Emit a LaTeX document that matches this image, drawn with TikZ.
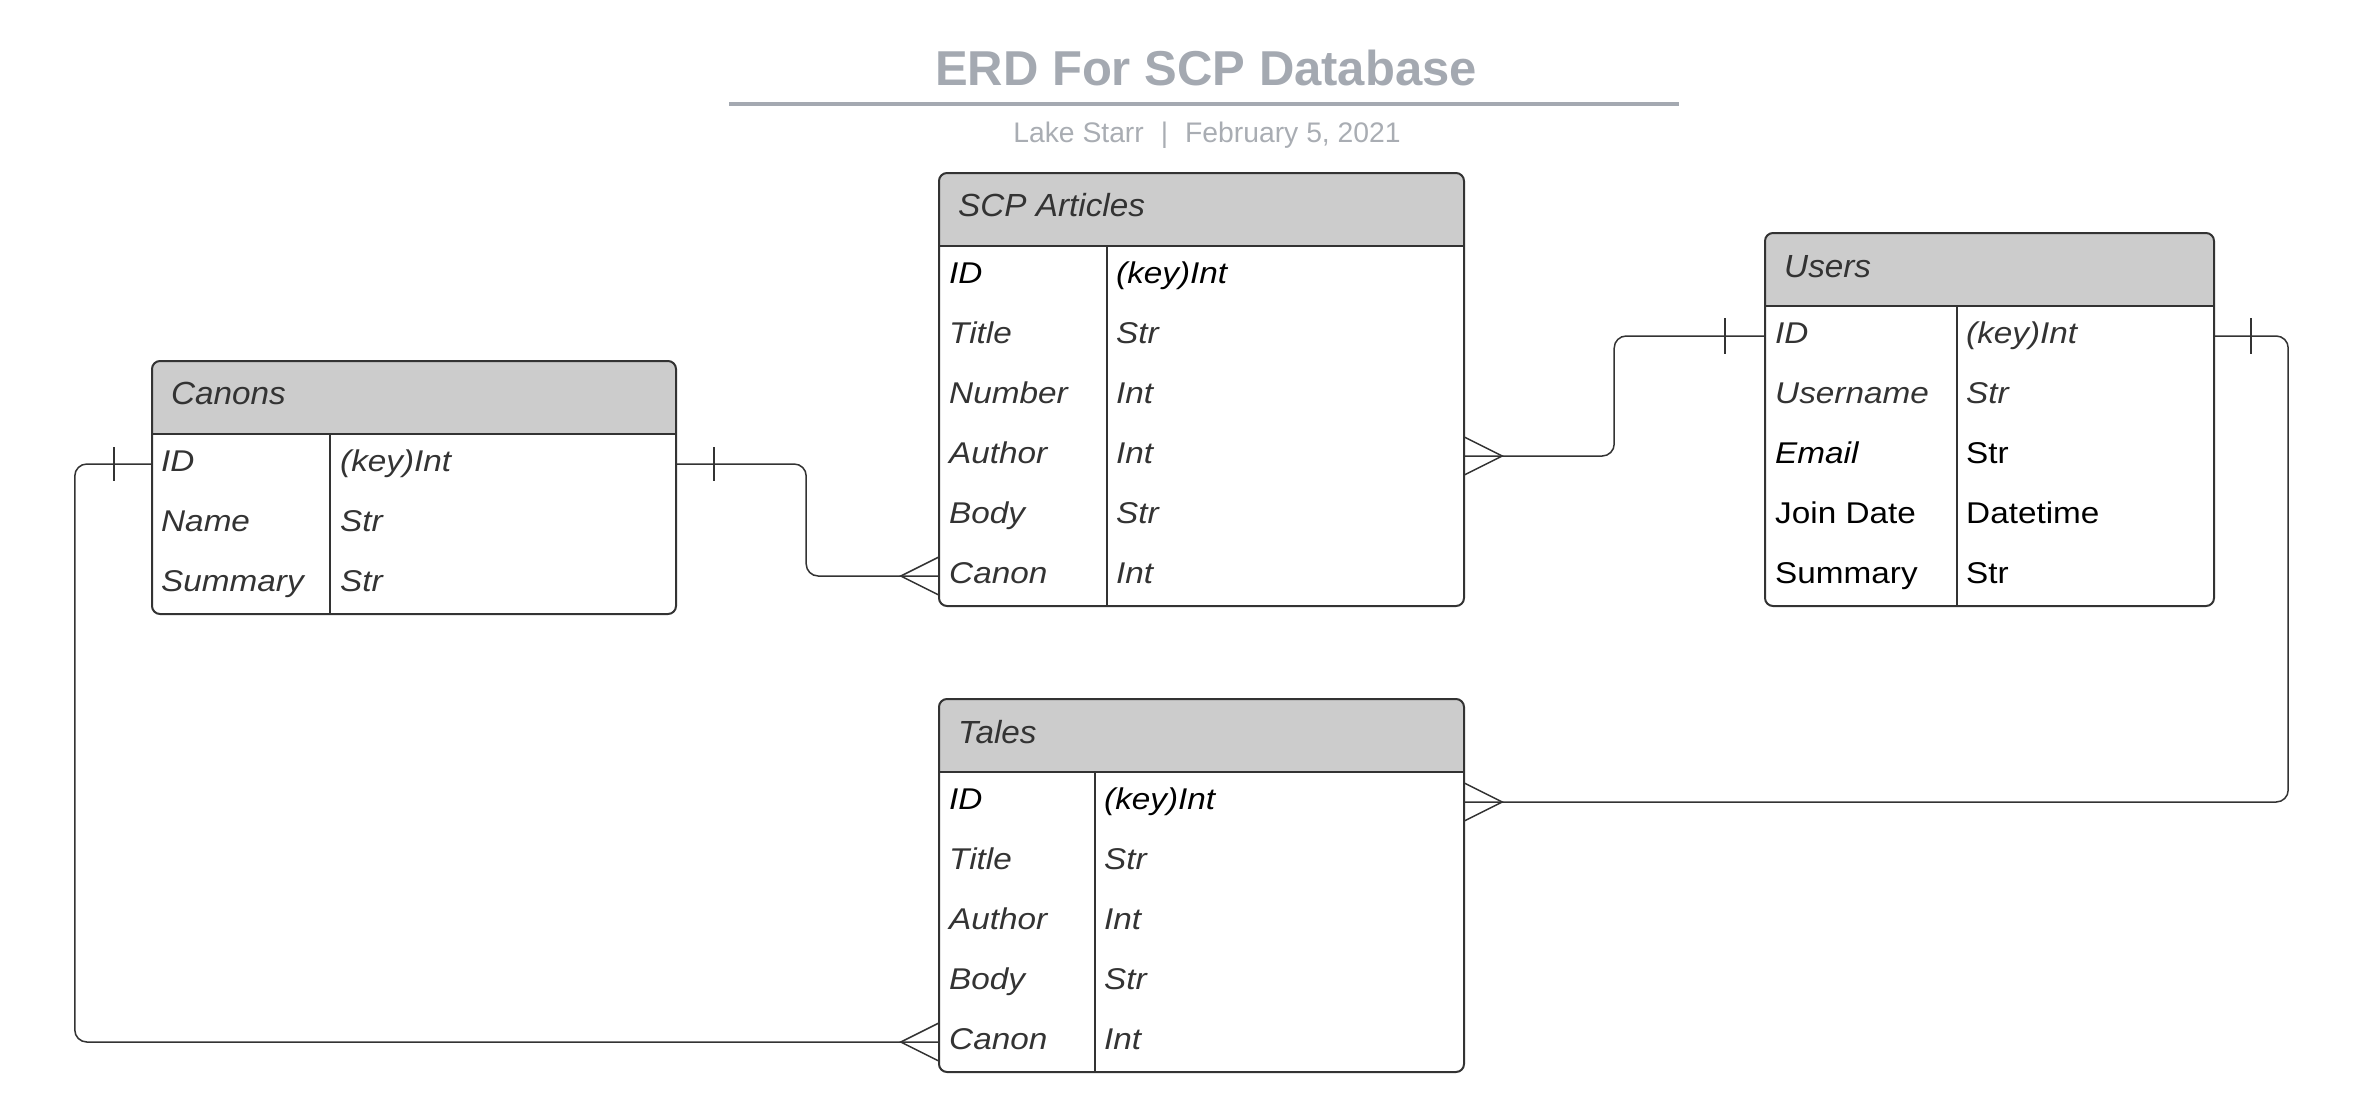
\documentclass[tikz,border=0pt]{standalone}
\usepackage{fontspec}
\setmainfont{Liberation Sans}
\newfontfamily\rowfnt[FakeStretch=1.11]{Liberation Sans}
\newfontfamily\hdrfnt[FakeStretch=1.04]{Liberation Sans}
\usetikzlibrary{calc}
\definecolor{ttl}{HTML}{A4A9B1}
\definecolor{subc}{HTML}{A9ADB3}
\definecolor{hdr}{HTML}{CCCCCC}
\definecolor{bord}{HTML}{333333}
\definecolor{dk}{HTML}{333333}
\begin{document}
\begin{tikzpicture}[x=1pt,y=-1pt,
  tblline/.style={draw=bord, line width=2pt},
  divline/.style={draw=bord, line width=1.5pt},
  rowbox/.style={minimum height=60pt, inner sep=0pt, draw=none},
  hdrtxt/.style={anchor=base west, inner sep=0pt, font=\hdrfnt\fontsize{32}{38}\selectfont\itshape, text=dk},
  cell/.style={anchor=base west, inner sep=0pt},
  dki/.style={text=dk, font=\rowfnt\fontsize{30}{36}\selectfont\itshape},
  bki/.style={text=black, font=\rowfnt\fontsize{30}{36}\selectfont\itshape},
  bkn/.style={text=black, font=\rowfnt\fontsize{30}{36}\selectfont\upshape},
  conn/.style={draw=bord, line width=1.5pt, rounded corners=12pt},
  crow/.style={draw=bord, line width=1.5pt, sharp corners}
]
\useasboundingbox (0,0) rectangle (2355,1119);

% Title
\node[anchor=base, inner sep=0pt, font=\bfseries\fontsize{49}{57}\selectfont, text=ttl] (title) at (1206,85) {ERD For SCP Database};
\draw[ttl, line width=4pt] (729,104) -- (1679,104);
\node[anchor=base, inner sep=0pt, font=\fontsize{28.3}{34}\selectfont, text=subc] (subtitle) at (1207,142) {Lake Starr\hspace{0.6em}|\hspace{0.6em}February 5, 2021};

% ---------- SCP Articles ----------
\begin{scope}
\clip[rounded corners=8pt] (939,173) rectangle (1464,606);
\fill[hdr] (939,173) rectangle (1464,246);
\end{scope}
\draw[tblline, rounded corners=8pt] (939,173) rectangle (1464,606);
\draw[tblline] (939,246) -- (1464,246);
\draw[divline] (1107,246) -- (1107,606);
\node[hdrtxt] (scpH) at (958,216) {SCP Articles};
\foreach \k/\ks/\v/\vs [count=\i] in {ID/bki/(key)Int/bki, Title/dki/Str/dki, Number/dki/Int/dki, Author/dki/Int/dki, Body/dki/Str/dki, Canon/dki/Int/dki}{
  \node[rowbox, minimum width=525pt] (scp\i) at (1201.5,{216+60*\i}) {};
  \node[cell,\ks] (scpk\i) at (949,{223+60*\i}) {\k};
  \node[cell,\vs] (scpv\i) at (1116,{223+60*\i}) {\v};
}

% ---------- Users ----------
\begin{scope}
\clip[rounded corners=8pt] (1765,233) rectangle (2214,606);
\fill[hdr] (1765,233) rectangle (2214,306);
\end{scope}
\draw[tblline, rounded corners=8pt] (1765,233) rectangle (2214,606);
\draw[tblline] (1765,306) -- (2214,306);
\draw[divline] (1957,306) -- (1957,606);
\node[hdrtxt] (usrH) at (1784,277) {Users};
\foreach \k/\ks/\v/\vs [count=\i] in {ID/dki/(key)Int/dki, Username/dki/Str/dki, Email/bki/Str/bkn, Join Date/bkn/Datetime/bkn, Summary/bkn/Str/bkn}{
  \node[rowbox, minimum width=449pt] (usr\i) at (1989.5,{276+60*\i}) {};
  \node[cell,\ks] (usrk\i) at (1775,{283+60*\i}) {\k};
  \node[cell,\vs] (usrv\i) at (1966,{283+60*\i}) {\v};
}

% ---------- Canons ----------
\begin{scope}
\clip[rounded corners=8pt] (152,361) rectangle (676,614);
\fill[hdr] (152,361) rectangle (676,434);
\end{scope}
\draw[tblline, rounded corners=8pt] (152,361) rectangle (676,614);
\draw[tblline] (152,434) -- (676,434);
\draw[divline] (330,434) -- (330,614);
\node[hdrtxt] (canH) at (171,404) {Canons};
\foreach \k/\ks/\v/\vs [count=\i] in {ID/dki/(key)Int/dki, Name/dki/Str/dki, Summary/dki/Str/dki}{
  \node[rowbox, minimum width=524pt] (can\i) at (414,{404+60*\i}) {};
  \node[cell,\ks] (cank\i) at (161,{411+60*\i}) {\k};
  \node[cell,\vs] (canv\i) at (340,{411+60*\i}) {\v};
}

% ---------- Tales ----------
\begin{scope}
\clip[rounded corners=8pt] (939,699) rectangle (1464,1072);
\fill[hdr] (939,699) rectangle (1464,772);
\end{scope}
\draw[tblline, rounded corners=8pt] (939,699) rectangle (1464,1072);
\draw[tblline] (939,772) -- (1464,772);
\draw[divline] (1095,772) -- (1095,1072);
\node[hdrtxt] (talH) at (958,743) {Tales};
\foreach \k/\ks/\v/\vs [count=\i] in {ID/bki/(key)Int/bki, Title/dki/Str/dki, Author/dki/Int/dki, Body/dki/Str/dki, Canon/dki/Int/dki}{
  \node[rowbox, minimum width=525pt] (tal\i) at (1201.5,{742+60*\i}) {};
  \node[cell,\ks] (talk\i) at (949,{749+60*\i}) {\k};
  \node[cell,\vs] (talv\i) at (1104,{749+60*\i}) {\v};
}

% ---------- Connectors ----------
% Canons.ID -> SCP.Canon
\draw[conn] (can1.east) -- ++(130,0) |- (scp6.west);
\draw[crow] ($(can1.east)+(38,-17)$) -- ++(0,34);
\draw[crow] ($(scp6.west)+(0,-19)$) -- ($(scp6.west)+(-38,0)$) -- ($(scp6.west)+(0,19)$);

% SCP.Author -> Users.ID
\draw[conn] (scp4.east) -- ++(150,0) |- (usr1.west);
\draw[crow] ($(scp4.east)+(0,-19)$) -- ($(scp4.east)+(38,0)$) -- ($(scp4.east)+(0,19)$);
\draw[crow] ($(usr1.west)+(-40,-18)$) -- ++(0,36);

% Users.ID -> Tales.ID
\draw[conn] (usr1.east) -- ++(74,0) |- (tal1.east);
\draw[crow] ($(usr1.east)+(37,-18)$) -- ++(0,36);
\draw[crow] ($(tal1.east)+(0,-19)$) -- ($(tal1.east)+(38,0)$) -- ($(tal1.east)+(0,19)$);

% Canons.ID -> Tales.Canon
\draw[conn] (can1.west) -- ++(-77,0) |- (tal5.west);
\draw[crow] ($(can1.west)+(-38,-17)$) -- ++(0,34);
\draw[crow] ($(tal5.west)+(0,-19)$) -- ($(tal5.west)+(-38,0)$) -- ($(tal5.west)+(0,19)$);
\end{tikzpicture}
\end{document}
